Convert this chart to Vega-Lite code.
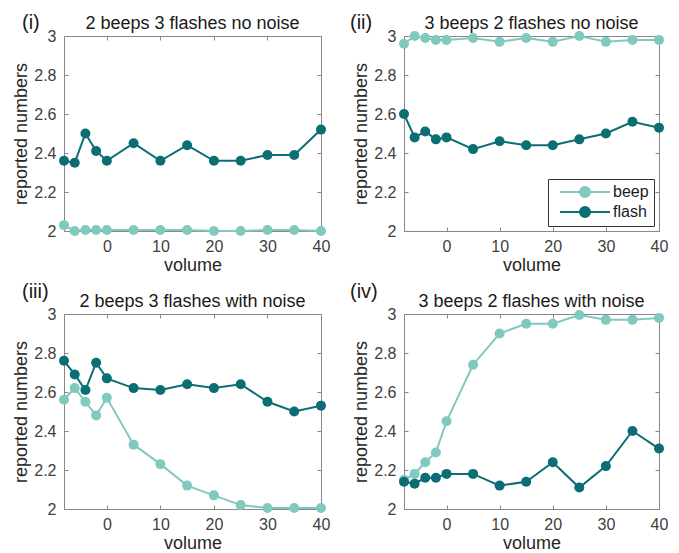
{
  "$schema": "https://vega.github.io/schema/vega-lite/v6.json",
  "background": "white",
  "padding": {"left": 12, "top": 12, "right": 5, "bottom": 0},
  "datasets": {
    "d": [
      {"panel": "i", "type": "beep", "volume": -8, "value": 2.03},
      {"panel": "i", "type": "beep", "volume": -6, "value": 2.0},
      {"panel": "i", "type": "beep", "volume": -4, "value": 2.005},
      {"panel": "i", "type": "beep", "volume": -2, "value": 2.005},
      {"panel": "i", "type": "beep", "volume": 0, "value": 2.005},
      {"panel": "i", "type": "beep", "volume": 5, "value": 2.005},
      {"panel": "i", "type": "beep", "volume": 10, "value": 2.005},
      {"panel": "i", "type": "beep", "volume": 15, "value": 2.005},
      {"panel": "i", "type": "beep", "volume": 20, "value": 2.0},
      {"panel": "i", "type": "beep", "volume": 25, "value": 2.0},
      {"panel": "i", "type": "beep", "volume": 30, "value": 2.005},
      {"panel": "i", "type": "beep", "volume": 35, "value": 2.005},
      {"panel": "i", "type": "beep", "volume": 40, "value": 2.0},
      {"panel": "i", "type": "flash", "volume": -8, "value": 2.36},
      {"panel": "i", "type": "flash", "volume": -6, "value": 2.35},
      {"panel": "i", "type": "flash", "volume": -4, "value": 2.5},
      {"panel": "i", "type": "flash", "volume": -2, "value": 2.41},
      {"panel": "i", "type": "flash", "volume": 0, "value": 2.36},
      {"panel": "i", "type": "flash", "volume": 5, "value": 2.45},
      {"panel": "i", "type": "flash", "volume": 10, "value": 2.36},
      {"panel": "i", "type": "flash", "volume": 15, "value": 2.44},
      {"panel": "i", "type": "flash", "volume": 20, "value": 2.36},
      {"panel": "i", "type": "flash", "volume": 25, "value": 2.36},
      {"panel": "i", "type": "flash", "volume": 30, "value": 2.39},
      {"panel": "i", "type": "flash", "volume": 35, "value": 2.39},
      {"panel": "i", "type": "flash", "volume": 40, "value": 2.52},
      {"panel": "ii", "type": "beep", "volume": -8, "value": 2.96},
      {"panel": "ii", "type": "beep", "volume": -6, "value": 3.0},
      {"panel": "ii", "type": "beep", "volume": -4, "value": 2.99},
      {"panel": "ii", "type": "beep", "volume": -2, "value": 2.98},
      {"panel": "ii", "type": "beep", "volume": 0, "value": 2.98},
      {"panel": "ii", "type": "beep", "volume": 5, "value": 2.99},
      {"panel": "ii", "type": "beep", "volume": 10, "value": 2.97},
      {"panel": "ii", "type": "beep", "volume": 15, "value": 2.99},
      {"panel": "ii", "type": "beep", "volume": 20, "value": 2.97},
      {"panel": "ii", "type": "beep", "volume": 25, "value": 3.0},
      {"panel": "ii", "type": "beep", "volume": 30, "value": 2.97},
      {"panel": "ii", "type": "beep", "volume": 35, "value": 2.98},
      {"panel": "ii", "type": "beep", "volume": 40, "value": 2.98},
      {"panel": "ii", "type": "flash", "volume": -8, "value": 2.6},
      {"panel": "ii", "type": "flash", "volume": -6, "value": 2.48},
      {"panel": "ii", "type": "flash", "volume": -4, "value": 2.51},
      {"panel": "ii", "type": "flash", "volume": -2, "value": 2.47},
      {"panel": "ii", "type": "flash", "volume": 0, "value": 2.48},
      {"panel": "ii", "type": "flash", "volume": 5, "value": 2.42},
      {"panel": "ii", "type": "flash", "volume": 10, "value": 2.46},
      {"panel": "ii", "type": "flash", "volume": 15, "value": 2.44},
      {"panel": "ii", "type": "flash", "volume": 20, "value": 2.44},
      {"panel": "ii", "type": "flash", "volume": 25, "value": 2.47},
      {"panel": "ii", "type": "flash", "volume": 30, "value": 2.5},
      {"panel": "ii", "type": "flash", "volume": 35, "value": 2.56},
      {"panel": "ii", "type": "flash", "volume": 40, "value": 2.53},
      {"panel": "iii", "type": "beep", "volume": -8, "value": 2.56},
      {"panel": "iii", "type": "beep", "volume": -6, "value": 2.62},
      {"panel": "iii", "type": "beep", "volume": -4, "value": 2.55},
      {"panel": "iii", "type": "beep", "volume": -2, "value": 2.48},
      {"panel": "iii", "type": "beep", "volume": 0, "value": 2.57},
      {"panel": "iii", "type": "beep", "volume": 5, "value": 2.33},
      {"panel": "iii", "type": "beep", "volume": 10, "value": 2.23},
      {"panel": "iii", "type": "beep", "volume": 15, "value": 2.12},
      {"panel": "iii", "type": "beep", "volume": 20, "value": 2.07},
      {"panel": "iii", "type": "beep", "volume": 25, "value": 2.02},
      {"panel": "iii", "type": "beep", "volume": 30, "value": 2.005},
      {"panel": "iii", "type": "beep", "volume": 35, "value": 2.005},
      {"panel": "iii", "type": "beep", "volume": 40, "value": 2.005},
      {"panel": "iii", "type": "flash", "volume": -8, "value": 2.76},
      {"panel": "iii", "type": "flash", "volume": -6, "value": 2.69},
      {"panel": "iii", "type": "flash", "volume": -4, "value": 2.61},
      {"panel": "iii", "type": "flash", "volume": -2, "value": 2.75},
      {"panel": "iii", "type": "flash", "volume": 0, "value": 2.67},
      {"panel": "iii", "type": "flash", "volume": 5, "value": 2.62},
      {"panel": "iii", "type": "flash", "volume": 10, "value": 2.61},
      {"panel": "iii", "type": "flash", "volume": 15, "value": 2.64},
      {"panel": "iii", "type": "flash", "volume": 20, "value": 2.62},
      {"panel": "iii", "type": "flash", "volume": 25, "value": 2.64},
      {"panel": "iii", "type": "flash", "volume": 30, "value": 2.55},
      {"panel": "iii", "type": "flash", "volume": 35, "value": 2.5},
      {"panel": "iii", "type": "flash", "volume": 40, "value": 2.53},
      {"panel": "iv", "type": "beep", "volume": -8, "value": 2.15},
      {"panel": "iv", "type": "beep", "volume": -6, "value": 2.18},
      {"panel": "iv", "type": "beep", "volume": -4, "value": 2.24},
      {"panel": "iv", "type": "beep", "volume": -2, "value": 2.29},
      {"panel": "iv", "type": "beep", "volume": 0, "value": 2.45},
      {"panel": "iv", "type": "beep", "volume": 5, "value": 2.74},
      {"panel": "iv", "type": "beep", "volume": 10, "value": 2.9},
      {"panel": "iv", "type": "beep", "volume": 15, "value": 2.95},
      {"panel": "iv", "type": "beep", "volume": 20, "value": 2.95},
      {"panel": "iv", "type": "beep", "volume": 25, "value": 2.995},
      {"panel": "iv", "type": "beep", "volume": 30, "value": 2.97},
      {"panel": "iv", "type": "beep", "volume": 35, "value": 2.97},
      {"panel": "iv", "type": "beep", "volume": 40, "value": 2.98},
      {"panel": "iv", "type": "flash", "volume": -8, "value": 2.14},
      {"panel": "iv", "type": "flash", "volume": -6, "value": 2.13},
      {"panel": "iv", "type": "flash", "volume": -4, "value": 2.16},
      {"panel": "iv", "type": "flash", "volume": -2, "value": 2.16},
      {"panel": "iv", "type": "flash", "volume": 0, "value": 2.18},
      {"panel": "iv", "type": "flash", "volume": 5, "value": 2.18},
      {"panel": "iv", "type": "flash", "volume": 10, "value": 2.12},
      {"panel": "iv", "type": "flash", "volume": 15, "value": 2.14},
      {"panel": "iv", "type": "flash", "volume": 20, "value": 2.24},
      {"panel": "iv", "type": "flash", "volume": 25, "value": 2.11},
      {"panel": "iv", "type": "flash", "volume": 30, "value": 2.22},
      {"panel": "iv", "type": "flash", "volume": 35, "value": 2.4},
      {"panel": "iv", "type": "flash", "volume": 40, "value": 2.31}
    ],
    "labels": [
      {"panel": "i", "label": "(i)", "title": "2 beeps 3 flashes no noise"},
      {"panel": "ii", "label": "(ii)", "title": "3 beeps 2 flashes no noise"},
      {"panel": "iii", "label": "(iii)", "title": "2 beeps 3 flashes with noise"},
      {"panel": "iv", "label": "(iv)", "title": "3 beeps 2 flashes with noise"}
    ]
  },
  "vconcat": [
    {
      "hconcat": [
        {
          "width": 257, "height": 195,
          "resolve": {"axis": {"x": "independent", "y": "independent"}},
          "layer": [
            {"data": {"name": "d"}, "transform": [{"filter": "datum.panel === 'i'"}],
             "mark": {"type": "line", "strokeWidth": 2, "point": {"filled": true, "size": 100, "opacity": 1}},
             "encoding": {
               "x": {"field": "volume", "type": "quantitative", "scale": {"domain": [-8, 40], "nice": false}, "axis": {"values": [0, 10, 20, 30, 40], "title": "volume"}},
               "y": {"field": "value", "type": "quantitative", "scale": {"domain": [2, 3], "nice": false}, "axis": {"tickCount": 6, "title": "reported numbers", "labelOverlap": false, "labelExpr": "format(datum.value, '~g')"}},
               "color": {"field": "type", "type": "nominal", "scale": {"domain": ["beep", "flash"], "range": ["#80c9bf", "#0b6e73"]}, "legend": null}
             }},
            {"mark": {"type": "rule", "color": "#707070", "strokeWidth": 1}, "encoding": {"x": {"datum": 0, "type": "quantitative", "axis": null}}},
            {"data": {"name": "labels"}, "transform": [{"filter": "datum.panel === 'i'"}],
             "mark": {"type": "text", "fontSize": 20, "align": "left", "dx": -42, "dy": -13, "color": "#1a1a1a"},
             "encoding": {"x": {"datum": -8, "type": "quantitative", "axis": null}, "y": {"datum": 3, "type": "quantitative", "axis": null}, "text": {"field": "label"}}},
            {"data": {"name": "labels"}, "transform": [{"filter": "datum.panel === 'i'"}],
             "mark": {"type": "text", "fontSize": 18, "align": "center", "dy": -12, "color": "#1a1a1a"},
             "encoding": {"x": {"datum": 16, "type": "quantitative", "axis": {"orient": "top", "labels": false, "domain": false, "title": null, "values": [0, 10, 20, 30, 40]}},
                          "y": {"datum": 3, "type": "quantitative", "axis": {"orient": "right", "labels": false, "domain": false, "title": null, "tickCount": 6}}, "text": {"field": "title"}}}
          ]
        },
        {
          "width": 255, "height": 195,
          "resolve": {"axis": {"x": "independent", "y": "independent"}},
          "layer": [
            {"data": {"name": "d"}, "transform": [{"filter": "datum.panel === 'ii'"}],
             "mark": {"type": "line", "strokeWidth": 2, "point": {"filled": true, "size": 100, "opacity": 1}},
             "encoding": {
               "x": {"field": "volume", "type": "quantitative", "scale": {"domain": [-8, 40], "nice": false}, "axis": {"values": [0, 10, 20, 30, 40], "title": "volume"}},
               "y": {"field": "value", "type": "quantitative", "scale": {"domain": [2, 3], "nice": false}, "axis": {"tickCount": 6, "title": "reported numbers", "labelOverlap": false, "labelExpr": "format(datum.value, '~g')"}},
               "color": {"field": "type", "type": "nominal", "scale": {"domain": ["beep", "flash"], "range": ["#80c9bf", "#0b6e73"]},
                 "legend": {"title": null, "orient": "bottom-right", "offset": 5, "fillColor": "white", "strokeColor": "#333333", "padding": 5, "labelFontSize": 16, "labelColor": "#1a1a1a",
                   "symbolType": "M-5,0H5M-1,0A1,1 0 1,0 1,0A1,1 0 1,0 -1,0", "symbolSize": 100, "symbolStrokeWidth": 2, "symbolOffset": 24, "labelOffset": 20, "rowPadding": 2}}
             }},
            {"mark": {"type": "rule", "color": "#707070", "strokeWidth": 1}, "encoding": {"x": {"datum": 0, "type": "quantitative", "axis": null}}},
            {"data": {"name": "labels"}, "transform": [{"filter": "datum.panel === 'ii'"}],
             "mark": {"type": "text", "fontSize": 20, "align": "left", "dx": -54, "dy": -13, "color": "#1a1a1a"},
             "encoding": {"x": {"datum": -8, "type": "quantitative", "axis": null}, "y": {"datum": 3, "type": "quantitative", "axis": null}, "text": {"field": "label"}}},
            {"data": {"name": "labels"}, "transform": [{"filter": "datum.panel === 'ii'"}],
             "mark": {"type": "text", "fontSize": 18, "align": "center", "dy": -12, "color": "#1a1a1a"},
             "encoding": {"x": {"datum": 16, "type": "quantitative", "axis": {"orient": "top", "labels": false, "domain": false, "title": null, "values": [0, 10, 20, 30, 40]}},
                          "y": {"datum": 3, "type": "quantitative", "axis": {"orient": "right", "labels": false, "domain": false, "title": null, "tickCount": 6}}, "text": {"field": "title"}}}
          ]
        }
      ],
      "spacing": 18,
      "resolve": {"legend": {"color": "independent"}}
    },
    {
      "hconcat": [
        {
          "width": 257, "height": 195,
          "resolve": {"axis": {"x": "independent", "y": "independent"}},
          "layer": [
            {"data": {"name": "d"}, "transform": [{"filter": "datum.panel === 'iii'"}],
             "mark": {"type": "line", "strokeWidth": 2, "point": {"filled": true, "size": 100, "opacity": 1}},
             "encoding": {
               "x": {"field": "volume", "type": "quantitative", "scale": {"domain": [-8, 40], "nice": false}, "axis": {"values": [0, 10, 20, 30, 40], "title": "volume"}},
               "y": {"field": "value", "type": "quantitative", "scale": {"domain": [2, 3], "nice": false}, "axis": {"tickCount": 6, "title": "reported numbers", "labelOverlap": false, "labelExpr": "format(datum.value, '~g')"}},
               "color": {"field": "type", "type": "nominal", "scale": {"domain": ["beep", "flash"], "range": ["#80c9bf", "#0b6e73"]}, "legend": null}
             }},
            {"mark": {"type": "rule", "color": "#707070", "strokeWidth": 1}, "encoding": {"x": {"datum": 0, "type": "quantitative", "axis": null}}},
            {"data": {"name": "labels"}, "transform": [{"filter": "datum.panel === 'iii'"}],
             "mark": {"type": "text", "fontSize": 20, "align": "left", "dx": -42, "dy": -22, "color": "#1a1a1a"},
             "encoding": {"x": {"datum": -8, "type": "quantitative", "axis": null}, "y": {"datum": 3, "type": "quantitative", "axis": null}, "text": {"field": "label"}}},
            {"data": {"name": "labels"}, "transform": [{"filter": "datum.panel === 'iii'"}],
             "mark": {"type": "text", "fontSize": 18, "align": "center", "dy": -12, "color": "#1a1a1a"},
             "encoding": {"x": {"datum": 16, "type": "quantitative", "axis": {"orient": "top", "labels": false, "domain": false, "title": null, "values": [0, 10, 20, 30, 40]}},
                          "y": {"datum": 3, "type": "quantitative", "axis": {"orient": "right", "labels": false, "domain": false, "title": null, "tickCount": 6}}, "text": {"field": "title"}}}
          ]
        },
        {
          "width": 255, "height": 195,
          "resolve": {"axis": {"x": "independent", "y": "independent"}},
          "layer": [
            {"data": {"name": "d"}, "transform": [{"filter": "datum.panel === 'iv'"}],
             "mark": {"type": "line", "strokeWidth": 2, "point": {"filled": true, "size": 100, "opacity": 1}},
             "encoding": {
               "x": {"field": "volume", "type": "quantitative", "scale": {"domain": [-8, 40], "nice": false}, "axis": {"values": [0, 10, 20, 30, 40], "title": "volume"}},
               "y": {"field": "value", "type": "quantitative", "scale": {"domain": [2, 3], "nice": false}, "axis": {"tickCount": 6, "title": "reported numbers", "labelOverlap": false, "labelExpr": "format(datum.value, '~g')"}},
               "color": {"field": "type", "type": "nominal", "scale": {"domain": ["beep", "flash"], "range": ["#80c9bf", "#0b6e73"]}, "legend": null}
             }},
            {"mark": {"type": "rule", "color": "#707070", "strokeWidth": 1}, "encoding": {"x": {"datum": 0, "type": "quantitative", "axis": null}}},
            {"data": {"name": "labels"}, "transform": [{"filter": "datum.panel === 'iv'"}],
             "mark": {"type": "text", "fontSize": 20, "align": "left", "dx": -54, "dy": -22, "color": "#1a1a1a"},
             "encoding": {"x": {"datum": -8, "type": "quantitative", "axis": null}, "y": {"datum": 3, "type": "quantitative", "axis": null}, "text": {"field": "label"}}},
            {"data": {"name": "labels"}, "transform": [{"filter": "datum.panel === 'iv'"}],
             "mark": {"type": "text", "fontSize": 18, "align": "center", "dy": -12, "color": "#1a1a1a"},
             "encoding": {"x": {"datum": 16, "type": "quantitative", "axis": {"orient": "top", "labels": false, "domain": false, "title": null, "values": [0, 10, 20, 30, 40]}},
                          "y": {"datum": 3, "type": "quantitative", "axis": {"orient": "right", "labels": false, "domain": false, "title": null, "tickCount": 6}}, "text": {"field": "title"}}}
          ]
        }
      ],
      "spacing": 18,
      "resolve": {"legend": {"color": "independent"}}
    }
  ],
  "spacing": 6,
  "resolve": {"legend": {"color": "independent"}},
  "config": {
    "font": "Liberation Sans",
    "view": {"stroke": "#888888", "strokeWidth": 1},
    "axis": {"grid": false, "domainColor": "#888888", "tickColor": "#888888", "tickSize": -4, "labelFontSize": 16, "labelColor": "#404040", "titleFontSize": 18, "titleFontWeight": "normal", "titleColor": "#262626", "labelFlush": false},
    "axisX": {"titlePadding": 2, "labelPadding": 11},
    "axisY": {"titlePadding": 3, "labelPadding": 12, "labelOverlap": false}
  }
}
